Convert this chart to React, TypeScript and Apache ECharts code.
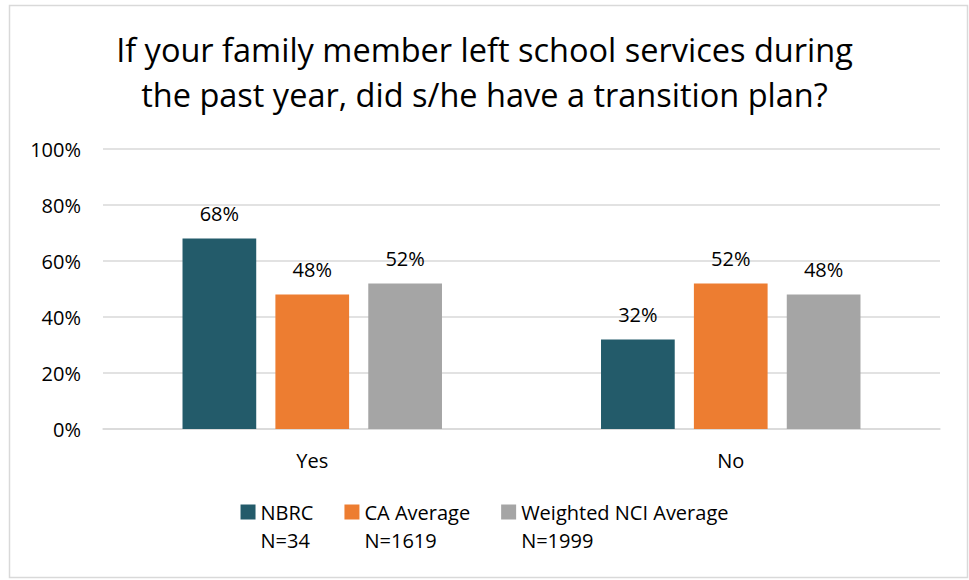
import React, { useEffect, useRef } from "react";
import * as echarts from "echarts";

const title = "If your family member left school services during\nthe past year, did s/he have a transition plan?";
const categories = ["Yes", "No"];
const seriesNames = ["NBRC\nN=34", "CA Average\nN=1619", "Weighted NCI Average\nN=1999"];
const nbrc = [68, 32];
const caAverage = [48, 52];
const nciAverage = [52, 48];
const colors = ["#235B6A", "#ED7D31", "#A5A5A5"];

const FONT = "'Open Sans', sans-serif";

export default function App() {
  const ref = useRef<HTMLDivElement>(null);
  useEffect(() => {
    if (!ref.current) return;
    const chart = echarts.init(ref.current, null, { renderer: "svg" });
    const values = [nbrc, caAverage, nciAverage];
    chart.setOption({
      animation: false,
      backgroundColor: "#fff",
      color: colors,
      title: {
        text: title,
        left: "center",
        top: 22,
        textStyle: { fontFamily: FONT, fontSize: 32.5, fontWeight: "normal", color: "#000", lineHeight: 45 },
      },
      graphic: [
        {
          type: "rect",
          shape: { x: 9.5, y: 5.5, width: 958, height: 572 },
          style: { fill: "none", stroke: "#D9D9D9", lineWidth: 1.5 },
          silent: true,
        },
      ],
      legend: {
        bottom: 21,
        left: "center",
        itemWidth: 15,
        itemHeight: 15,
        itemGap: 31,
        icon: "rect",
        textStyle: { fontFamily: FONT, fontSize: 20, color: "#000", lineHeight: 28 },
        formatter: (name: string) => "\n" + name,
        data: seriesNames,
      },
      grid: { left: 103, right: 29, top: 149, bottom: 151, containLabel: false },
      xAxis: {
        type: "category",
        data: categories,
        axisLine: { lineStyle: { color: "#D9D9D9", width: 1.5 } },
        axisTick: { show: false },
        axisLabel: { fontFamily: FONT, fontSize: 20, color: "#000", margin: 21 },
      },
      yAxis: {
        type: "value",
        min: 0,
        max: 100,
        interval: 20,
        axisLabel: { formatter: "{value}%", fontFamily: FONT, fontSize: 20, color: "#000", margin: 22 },
        splitLine: { lineStyle: { color: "#D9D9D9", width: 1.5 } },
        axisLine: { show: false },
        axisTick: { show: false },
      },
      series: seriesNames.map((n, i) => ({
        name: n,
        type: "bar",
        data: values[i],
        barGap: "26%",
        barCategoryGap: "38%",
        itemStyle: { color: colors[i] },
        label: {
          show: true,
          position: "top",
          distance: 15,
          formatter: "{c}%",
          fontFamily: FONT,
          fontSize: 20,
          color: "#000",
        },
      })),
    });
    return () => chart.dispose();
  }, []);
  return <div ref={ref} style={{ position: "fixed", left: 0, top: 0, width: 969, height: 580 }} />;
}
